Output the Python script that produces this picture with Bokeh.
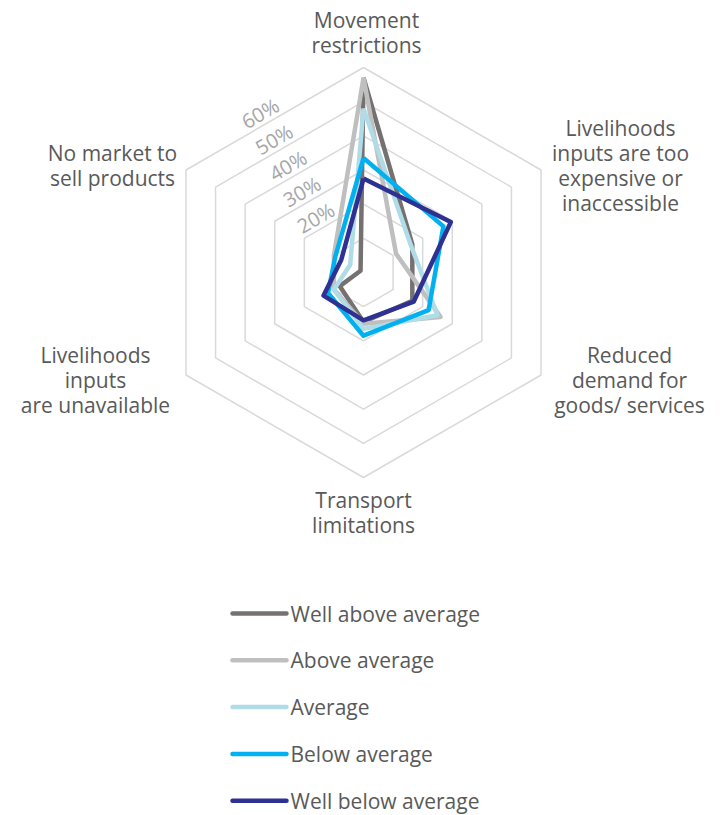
import math
from bokeh.plotting import figure
from bokeh.models import Range1d
from bokeh.core.properties import value
from bokeh.embed import file_html
from bokeh.resources import INLINE

# ---------------- data ----------------
categories = [
    "Movement restrictions",
    "Livelihoods inputs are too expensive or inaccessible",
    "Reduced demand for goods/ services",
    "Transport limitations",
    "Livelihoods inputs are unavailable",
    "No market to sell products",
]
category_lines = [
    ["Movement", "restrictions"],
    ["Livelihoods", "inputs are too", "expensive or", "inaccessible"],
    ["Reduced", "demand for", "goods/ services"],
    ["Transport", "limitations"],
    ["Livelihoods", "inputs", "are unavailable"],
    ["No market to", "sell products"],
]
series_names = ["Well above average", "Above average", "Average",
                "Below average", "Well below average"]
well_above = [57, 16.5, 16.5, 14.5, 8, 1]
above = [57, 11, 26, 15, 10, 10]
average = [48, 16, 25, 16.5, 10, 4.5]
below = [33.5, 27, 22, 18.5, 12, 9.5]
well_below = [27.5, 29.5, 17, 14, 13.5, 7.5]
series_values = [well_above, above, average, below, well_below]
ring_values = [10, 20, 30, 40, 50, 60]
tick_labels = ["20%", "30%", "40%", "50%", "60%"]
tick_values = [20, 30, 40, 50, 60]

# ---------------- styles ----------------
colors = ["#767171", "#BFBFBF", "#B0DCE8", "#00B0F0", "#2E3192"]
FONT = value("Open Sans")
TEXT_COLOR = "#595959"
GRID_COLOR = "#D9D9D9"

CX, CY = 363, 272          # screen position of the radar centre
PX_PER_PCT = 205 / 60.0    # outer ring (60%) radius in px


def X(sx):
    return sx - CX


def Y(sy):
    return CY - sy


n = len(categories)
angles = [math.pi / 2 - 2 * math.pi * i / n for i in range(n)]


def polar(vals):
    xs = [v * PX_PER_PCT * math.cos(a) for v, a in zip(vals, angles)]
    ys = [v * PX_PER_PCT * math.sin(a) for v, a in zip(vals, angles)]
    return xs + [xs[0]], ys + [ys[0]]


W, H = 727, 815
p = figure(width=W, height=H, output_backend="svg", toolbar_location=None,
           x_range=Range1d(X(0), X(W)), y_range=Range1d(Y(H), Y(0)),
           x_axis_type=None, y_axis_type=None, min_border=0)
p.outline_line_color = None
p.xgrid.visible = False
p.ygrid.visible = False
p.background_fill_color = "white"

# rings
rx, ry = [], []
for rv in ring_values:
    xs, ys = polar([rv] * n)
    rx.append(xs)
    ry.append(ys)
p.multi_line(rx, ry, line_color=GRID_COLOR, line_width=1.5)

# tick labels (rotated, along upper-left edges)
tx, ty = [], []
for tv in tick_values:
    r = tv * PX_PER_PCT
    s = 0.47 * r + 16
    d = 12
    tx.append(0 + s * (-0.866) + d * (-0.5))
    ty.append(r + s * (-0.5) + d * 0.866)
p.text(tx, ty, text=tick_labels, angle=math.pi / 6, text_align="center",
       text_baseline="middle", text_font=FONT, text_font_size="20px",
       text_color="#A6A6A6")

# series
for vals, col in zip(series_values, colors):
    xs, ys = polar(vals)
    p.line(xs, ys, line_color=col, line_width=4.5, line_join="round")

# category labels
label_pos = [
    (366, 19), (620, 127), (629, 354), (363, 499), (95, 354), (112, 152),
]
for lines, (sx, sy) in zip(category_lines, label_pos):
    lx = [X(sx)] * len(lines)
    ly = [Y(sy + 25 * k) for k in range(len(lines))]
    p.text(lx, ly, text=lines, text_align="center", text_baseline="middle",
           text_font=FONT, text_font_size="21px", text_color=TEXT_COLOR)

# legend
for i, (name, col) in enumerate(zip(series_names, colors)):
    sy = 613 + 46.8 * i
    p.line([X(232), X(286)], [Y(sy), Y(sy)], line_color=col, line_width=4.5,
           line_cap="round")
    p.text([X(290)], [Y(sy)], text=[name], text_align="left",
           text_baseline="middle", text_font=FONT, text_font_size="21px",
           text_color=TEXT_COLOR)

open("out.html", "w").write(file_html(p, INLINE))
